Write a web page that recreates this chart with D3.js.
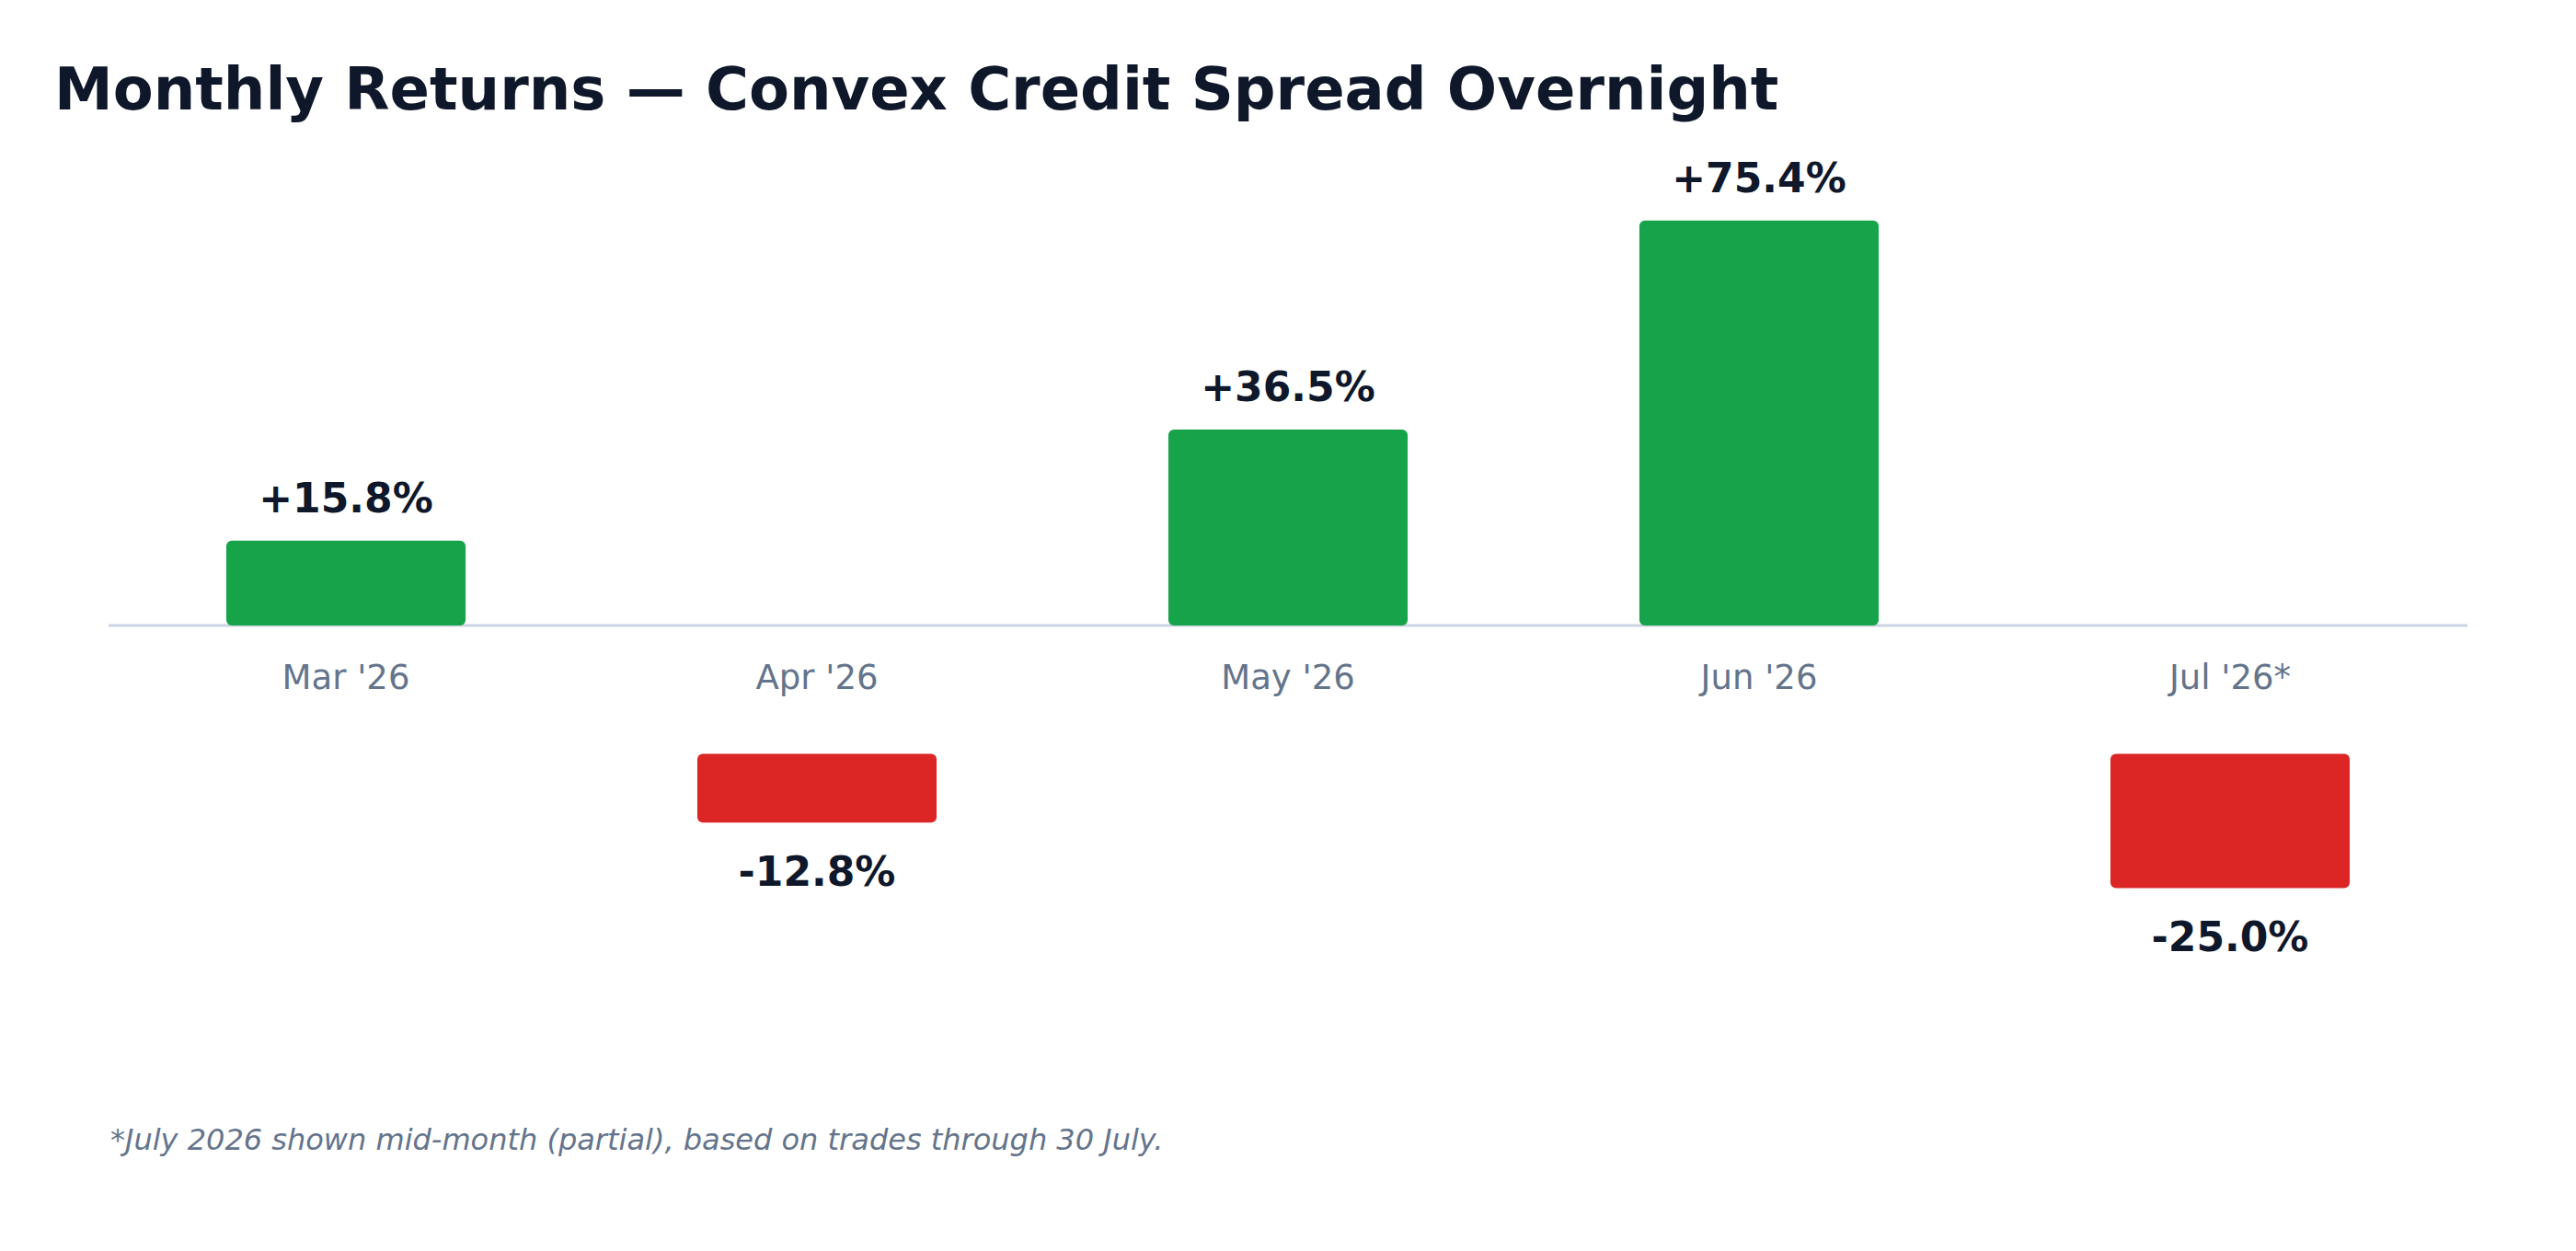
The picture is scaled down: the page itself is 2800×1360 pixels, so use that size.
<!DOCTYPE html>
<html>
<head>
<meta charset="utf-8">
<script src="https://cdn.jsdelivr.net/npm/d3@7"></script>
<style>
  html, body { margin: 0; padding: 0; background: #ffffff; }
  svg { display: block; font-family: "DejaVu Sans", sans-serif; }
</style>
</head>
<body>
<script>
// Chart data
var months = ["Mar '26", "Apr '26", "May '26", "Jun '26", "Jul '26*"];
var returns = [15.8, -12.8, 36.5, 75.4, -25.0];
var title = "Monthly Returns \u2014 Convex Credit Spread Overnight";
var footnote = "*July 2026 shown mid-month (partial), based on trades through 30 July.";

// Canvas
var width = 2800;
var height = 1360;
var zeroY = 680;
var negGap = 139.5; // negative bars sit below the month labels

var svg = d3.select("body")
            .append("svg")
            .attr("width", width)
            .attr("height", height);

// Scales
var x = d3.scaleBand()
          .domain(months)
          .range([120, 2680])
          .paddingInner(0.492)
          .paddingOuter(0.246);

var y = d3.scaleLinear()
          .domain([0, 80])
          .range([zeroY, 213]);

var rows = months.map(function(m, i) { return {month: m, value: returns[i]}; });

// Title
svg.append("text")
   .attr("x", 59)
   .attr("y", 119)
   .attr("fill", "#0f172a")
   .attr("font-size", 64)
   .attr("font-weight", "bold")
   .text(title);

// Month axis on the zero line
var axis = svg.append("g")
              .attr("transform", "translate(0," + zeroY + ")")
              .call(d3.axisBottom(x).tickSize(0).tickSizeOuter(0).tickPadding(43));

axis.select(".domain")
    .attr("d", "M118,0H2682")
    .attr("stroke", "#cbd5e1")
    .attr("stroke-width", 3);

axis.selectAll(".tick text")
    .attr("fill", "#64748b")
    .attr("font-size", 37)
    .attr("font-family", "DejaVu Sans, sans-serif");

// Bars
function barTop(d) {
  return d.value >= 0 ? y(d.value) : y(0) + negGap;
}
function barHeight(d) {
  return Math.abs(y(d.value) - y(0));
}

svg.selectAll(".bar")
   .data(rows)
   .enter()
   .append("rect")
   .attr("class", "bar")
   .attr("x", function(d) { return x(d.month); })
   .attr("y", barTop)
   .attr("width", x.bandwidth())
   .attr("height", barHeight)
   .attr("rx", 6)
   .attr("fill", function(d) { return d.value >= 0 ? "#16a34a" : "#dc2626"; });

// Value labels
svg.selectAll(".value")
   .data(rows)
   .enter()
   .append("text")
   .attr("class", "value")
   .attr("x", function(d) { return x(d.month) + x.bandwidth() / 2; })
   .attr("y", function(d) {
     return d.value >= 0 ? barTop(d) - 31 : barTop(d) + barHeight(d) + 69;
   })
   .attr("text-anchor", "middle")
   .attr("fill", "#0f172a")
   .attr("font-size", 44)
   .attr("font-weight", "bold")
   .text(function(d) { return (d.value >= 0 ? "+" : "") + d.value.toFixed(1) + "%"; });

// Footnote
svg.append("text")
   .attr("x", 120)
   .attr("y", 1250)
   .attr("fill", "#64748b")
   .attr("font-size", 32)
   .attr("font-style", "italic")
   .text(footnote);
</script>
</body>
</html>
